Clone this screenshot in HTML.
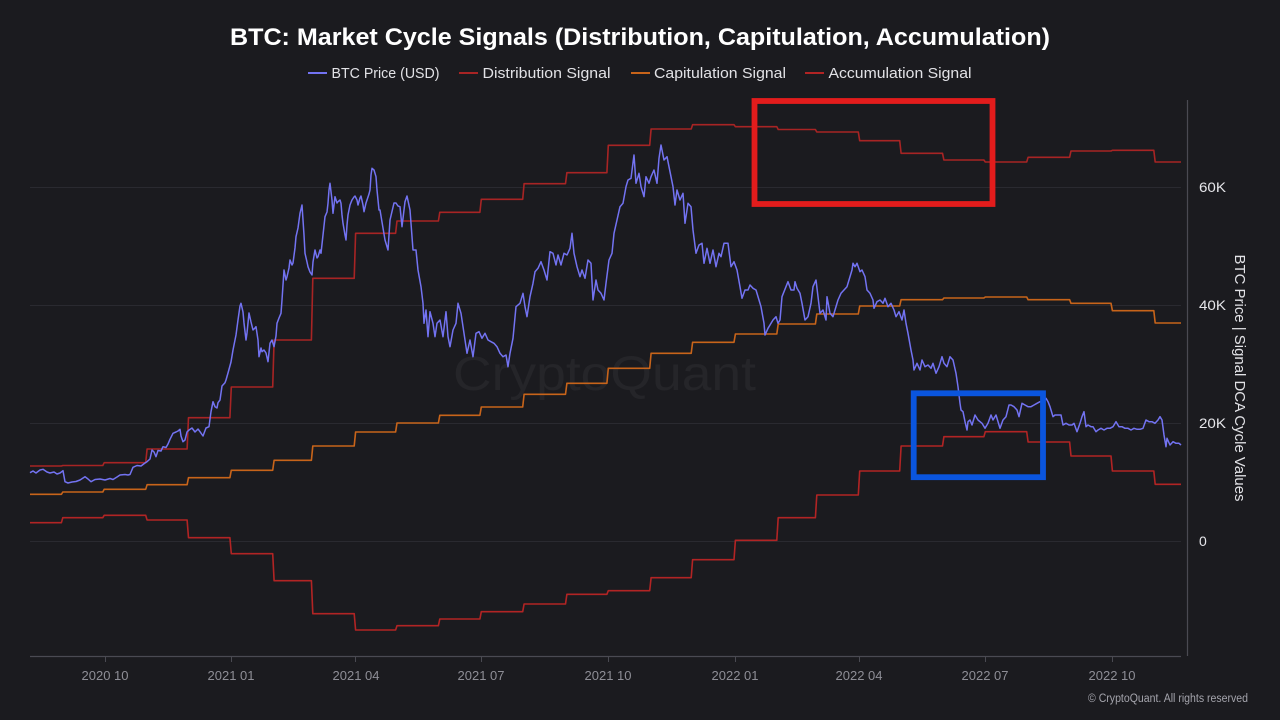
<!DOCTYPE html>
<html>
<head>
<meta charset="utf-8">
<style>
html,body{margin:0;padding:0;background:#1b1b1f;}
svg{display:block;}
text{font-family:"Liberation Sans",sans-serif;}
</style>
</head>
<body>
<svg width="1280" height="720" viewBox="0 0 1280 720" xmlns="http://www.w3.org/2000/svg">
<rect x="0" y="0" width="1280" height="720" fill="#1b1b1f"/>

<!-- Title -->
<text x="640" y="45" text-anchor="middle" font-size="24" font-weight="bold" fill="#ffffff" textLength="820" lengthAdjust="spacingAndGlyphs">BTC: Market Cycle Signals (Distribution, Capitulation, Accumulation)</text>

<!-- Legend -->
<line x1="308" y1="73" x2="327" y2="73" stroke="#7373f2" stroke-width="2"/>
<text x="331.5" y="78" font-size="15" fill="#e2e2e6" textLength="108" lengthAdjust="spacingAndGlyphs">BTC Price (USD)</text>
<line x1="459" y1="73" x2="478" y2="73" stroke="#a82424" stroke-width="2"/>
<text x="482.5" y="78" font-size="15" fill="#e2e2e6" textLength="128" lengthAdjust="spacingAndGlyphs">Distribution Signal</text>
<line x1="631" y1="73" x2="650" y2="73" stroke="#c8641a" stroke-width="2"/>
<text x="654" y="78" font-size="15" fill="#e2e2e6" textLength="132" lengthAdjust="spacingAndGlyphs">Capitulation Signal</text>
<line x1="805" y1="73" x2="824" y2="73" stroke="#b22424" stroke-width="2"/>
<text x="828.5" y="78" font-size="15" fill="#e2e2e6" textLength="143" lengthAdjust="spacingAndGlyphs">Accumulation Signal</text>

<!-- Watermark -->
<text x="453" y="390" font-size="48" fill="#252529" textLength="303" lengthAdjust="spacingAndGlyphs">CryptoQuant</text>

<!-- Gridlines -->
<g stroke="#2a2a30" stroke-width="1">
<line x1="30" y1="187.5" x2="1181" y2="187.5"/>
<line x1="30" y1="305.5" x2="1181" y2="305.5"/>
<line x1="30" y1="423.5" x2="1181" y2="423.5"/>
<line x1="30" y1="541.5" x2="1181" y2="541.5"/>
</g>

<!-- Axes -->
<line x1="30" y1="656.5" x2="1181" y2="656.5" stroke="#4a4a52" stroke-width="1.2"/>
<line x1="1187.5" y1="100" x2="1187.5" y2="656" stroke="#4a4a52" stroke-width="1.2"/>
<g stroke="#4a4a52" stroke-width="1">
<line x1="105.5" y1="656" x2="105.5" y2="662"/>
<line x1="231.5" y1="656" x2="231.5" y2="662"/>
<line x1="355.5" y1="656" x2="355.5" y2="662"/>
<line x1="481.5" y1="656" x2="481.5" y2="662"/>
<line x1="608.5" y1="656" x2="608.5" y2="662"/>
<line x1="735.5" y1="656" x2="735.5" y2="662"/>
<line x1="859.5" y1="656" x2="859.5" y2="662"/>
<line x1="985.5" y1="656" x2="985.5" y2="662"/>
<line x1="1112.5" y1="656" x2="1112.5" y2="662"/>
</g>

<!-- X labels -->
<g font-size="13" fill="#8e8e96" text-anchor="middle">
<text x="105" y="680">2020 10</text>
<text x="231" y="680">2021 01</text>
<text x="356" y="680">2021 04</text>
<text x="481" y="680">2021 07</text>
<text x="608" y="680">2021 10</text>
<text x="735" y="680">2022 01</text>
<text x="859" y="680">2022 04</text>
<text x="985" y="680">2022 07</text>
<text x="1112" y="680">2022 10</text>
</g>

<!-- Y labels -->
<g font-size="14" fill="#e6e6ea">
<text x="1199" y="192" textLength="27" lengthAdjust="spacingAndGlyphs">60K</text>
<text x="1199" y="310" textLength="27" lengthAdjust="spacingAndGlyphs">40K</text>
<text x="1199" y="428" textLength="27" lengthAdjust="spacingAndGlyphs">20K</text>
<text x="1199" y="546">0</text>
</g>
<text transform="translate(1235,378) rotate(90)" text-anchor="middle" font-size="15" fill="#e2e2e6" textLength="247" lengthAdjust="spacingAndGlyphs">BTC Price | Signal DCA Cycle Values</text>

<!-- Distribution -->
<polyline fill="none" stroke="#a82424" stroke-width="1.6" stroke-linejoin="round" points="30,466 61.4,466 62.8,465.5 102.8,465.5 104.2,462.7 145.7,462.7 147.1,449 187.1,449 188.5,417.7 229.9,417.7 231.3,387 272.7,387 274.1,340 311.4,340 312.8,278.3 354.2,278.3 355.6,233.3 395.6,233.3 397,221 438.4,221 439.8,212.3 479.9,212.3 481.3,199.3 522.7,199.3 524.1,183.7 565.5,183.7 566.9,172.7 606.9,172.7 608.3,145.3 649.7,145.3 651.1,129 691.2,129 692.6,124.7 734,124.7 735.4,126.7 776.8,126.7 778.2,129.5 815.4,129.5 816.8,132 858.3,132 859.7,140.7 899.7,140.7 901.1,153.3 942.5,153.3 943.9,160 983.9,160 985.3,162 1026.7,162 1028.1,157.3 1069.6,157.3 1071,151 1111,151 1112.4,150.3 1153.8,150.3 1155.2,162 1181,162"/>

<!-- Capitulation -->
<polyline fill="none" stroke="#c8641a" stroke-width="1.6" stroke-linejoin="round" points="30,494.3 61.4,494.3 62.8,492 102.8,492 104.2,489.3 145.7,489.3 147.1,484.7 187.1,484.7 188.5,477.7 229.9,477.7 231.3,470.3 272.7,470.3 274.1,460.3 311.4,460.3 312.8,446 354.2,446 355.6,432 395.6,432 397,423 438.4,423 439.8,415.3 479.9,415.3 481.3,407 522.7,407 524.1,394.3 565.5,394.3 566.9,383.3 606.9,383.3 608.3,368.3 649.7,368.3 651.1,353.3 691.2,353.3 692.6,342.3 734,342.3 735.4,334 776.8,334 778.2,324 815.4,324 816.8,314 858.3,314 859.7,306 899.7,306 901.1,299.7 942.5,299.7 943.9,298 983.9,298 985.3,297 1026.7,297 1028.1,299.7 1069.6,299.7 1071,303.3 1111,303.3 1112.4,310.7 1153.8,310.7 1155.2,323 1181,323"/>

<!-- Accumulation -->
<polyline fill="none" stroke="#b22424" stroke-width="1.6" stroke-linejoin="round" points="30,522.7 61.4,522.7 62.8,517.7 102.8,517.7 104.2,515.3 145.7,515.3 147.1,520 187.1,520 188.5,537.7 229.9,537.7 231.3,553.7 272.7,553.7 274.1,580.7 311.4,580.7 312.8,613.7 354.2,613.7 355.6,630 395.6,630 397,625.7 438.4,625.7 439.8,619 479.9,619 481.3,611.7 522.7,611.7 524.1,604 565.5,604 566.9,594.3 606.9,594.3 608.3,590.7 649.7,590.7 651.1,577.7 691.2,577.7 692.6,559.7 734,559.7 735.4,540.3 776.8,540.3 778.2,517.7 815.4,517.7 816.8,495 858.3,495 859.7,471 899.7,471 901.1,446 942.5,446 943.9,436.7 983.9,436.7 985.3,431.7 1026.7,431.7 1028.1,442 1069.6,442 1071,456 1111,456 1112.4,471 1153.8,471 1155.2,484.3 1181,484.3"/>

<!-- BTC Price -->
<polyline fill="none" stroke="#7373f2" stroke-width="1.5" stroke-linejoin="round" points="30,472.7 33,471 36,473 40,470 43,469.3 47,472 50,473 54,472 57,474 60,473 63,470.7 65,481.7 68,483 72,482 76,481.5 80,480 85,476.7 88,479 91,481.7 95,479.5 100,479 105,480 110,478.5 113,479.5 117,477 120,475 125,474.5 128,475 130,474.5 133,467.3 137,465.5 141,466 145,463 147,461.7 150,459 152,450 154,452 156,456.7 158,450.5 161,451 163,446.7 166,447.5 168,444 170,439.3 173,433.3 176,432 178,431 180,429.3 181,436 183,441.7 185,440 187,432 189,430 192,428 195,432 198,429 200,431.7 203,436 206,428 209,426.7 211,411.7 213,401.7 215,406.7 217,408 218,402.7 220,400 222,386 225,382.7 226,380 228,373 231,362 233,350 236,335 238,320 240,306 241,303.3 243,312 244,323 246,340 247,333 249,313 251,322 253,330 255,328 256,326.7 258,340 259,356.7 261,348 262,351.7 264,350 266,353 268,361.7 270,343.3 272,340 274,346.7 276,336 277,323.3 279,318 281,313.3 282,300 284,270 286,280 287,276.7 289,268 290,260 292,265 293,263 295,248 296,236.7 298,228 300,213.3 302,205 304,235 305,253.3 307,262 308,266.7 310,272 312,275 313,262 315,250 317,258 318,256.7 320,250 321,253.3 323,235 325,216.7 327,212 328,203.3 329,190 330,183.3 332,200 333,213.3 334,205 335,196.7 337,203 338,201.7 340,200 341,203.3 342,215 343,223.3 345,235 346,240 347,225 348,215 350,205 352,200 354,197 355,196 357,200 358,205 360,198 361,196 363,205 364,211.7 366,203 367,200 369,194 370,190 371,175 372,168.3 374,170 376,176.7 377,190 379,210 380,210 385,240 388,250 390,220 394,203 396,203 398,206 400,206.7 402,226.7 405,201.7 407,196 410,210 413,250 416,250 418,270 421,286.7 423,303.3 424,323.3 426,310 428,336.7 430,311.7 433,323.3 435,336.7 437,323.3 440,320 443,336.7 446,311.7 448,336.7 450,346.7 453,330 456,323.3 458,303.3 461,313.3 464,333.3 467,353.3 470,340 473,356.7 476,333.3 479,331.7 482,338.3 485,333.3 488,340 491,341.7 494,343.3 497,346.7 500,353.3 503,356.7 506,355 508,366.7 510,353.3 513,338.3 516,306.7 520,303.3 523,293.3 525,306.7 527,316.7 530,296.7 533,283.3 535,271.7 538,268.3 541,261.7 544,270 547,280 550,251.7 553,253.3 556,265 558,255 561,265 564,253.3 567,255 570,248.3 572,233.3 574,253.3 577,266.7 580,276.7 582,270 585,278.3 588,260 591,263.3 593,300 596,280 598,290 601,293.3 604,300 606,283.3 609,260 612,253.3 614,233.3 617,220 620,206.7 623,203.3 626,186.7 628,180 631,178.3 634,155 636,183.3 639,173.3 641,186.7 644,196.7 646,176.7 649,183.3 651,176.7 654,170 657,183.3 659,158.3 661,145 664,160 667,156.7 670,171.7 673,186.7 675,205 677,190 680,200 683,193.3 685,223.3 688,203.3 691,206.7 693,230 696,253.3 699,245 702,243.3 704,263.3 707,248.3 710,263.3 713,250 716,266.7 719,253.3 721,256.7 724,243.3 728,243.3 731,266.7 734,261.7 737,270 740,286.7 742,298.3 745,290 748,290 750,285 753,288.3 756,290 759,300 761,306.7 764,323.3 765,335 768,328.3 770,325 773,320 776,316.7 778,323.3 780,320 782,296.7 786,286.7 788,281.7 791,290 794,290 795,281.7 797,288.3 800,293.3 802,303.3 805,320 808,316.7 811,303.3 813,286.7 816,280 818,296.7 820,313.3 823,310 826,320 827,296.7 830,313.3 833,316.7 835,310 838,300 841,293.3 844,290 847,286.7 849,280 852,270 853,263.3 855,266.7 857,263.3 860,271.7 862,270 865,276.7 867,290 870,293.3 873,300 874,308.3 877,301.7 880,300 883,303.3 885,298.3 888,306.7 891,303.3 894,310 896,316.7 899,311.7 902,320 904,310 906,323.3 908,333.3 911,350 913,360 914,370 917,363.3 920,370 922,360 925,366.7 928,365 931,368.3 933,363.3 936,373.3 939,366.7 942,356.7 944,363.3 947,366.7 950,356.7 953,360 956,373.3 958,386.7 960,403.3 961,410 963,411.7 965,421.7 967,430 968,421.7 970,420 972,425 975,415 978,420 982,423.3 985,428.3 988,423.3 991,415 993,420 996,415 1000,428.3 1003,420 1006,416.7 1009,405 1011,405 1014,406.7 1017,410 1019,416.7 1022,403.3 1025,405 1028,406.7 1031,406.7 1034,405 1037,403.3 1040,401.7 1043,401.7 1046,398.3 1048,401.7 1050,406.7 1053,416.7 1055,415 1058,415 1061,415 1063,425 1066,423.3 1069,425 1072,425 1074,423.3 1077,431.7 1080,423.3 1082,416.7 1084,411.7 1086,426.7 1088,425 1091,426.7 1093,426.7 1096,431.7 1098,430 1101,428.3 1104,430 1107,428.3 1110,428.3 1113,426.7 1116,421.7 1119,426.7 1122,426.7 1125,428.3 1128,428.3 1131,430 1134,428.3 1137,429.3 1140,429.3 1143,428.3 1146,420 1149,421.7 1152,421.7 1155,423.3 1158,420 1160,416.7 1162,420 1164,435 1166,446.7 1167,438.3 1170,445 1173,441.7 1176,443.3 1179,443.3 1181,445"/>

<!-- Annotation boxes -->
<rect x="754.5" y="101" width="238" height="103" fill="none" stroke="#e31c1c" stroke-width="5.8"/>
<rect x="913.7" y="393.3" width="129.3" height="83.9" fill="none" stroke="#0a55de" stroke-width="5.8"/>

<!-- Copyright -->
<text x="1248" y="702" text-anchor="end" font-size="11.5" fill="#a4a4ac" textLength="160" lengthAdjust="spacingAndGlyphs">© CryptoQuant. All rights reserved</text>
</svg>
</body>
</html>
